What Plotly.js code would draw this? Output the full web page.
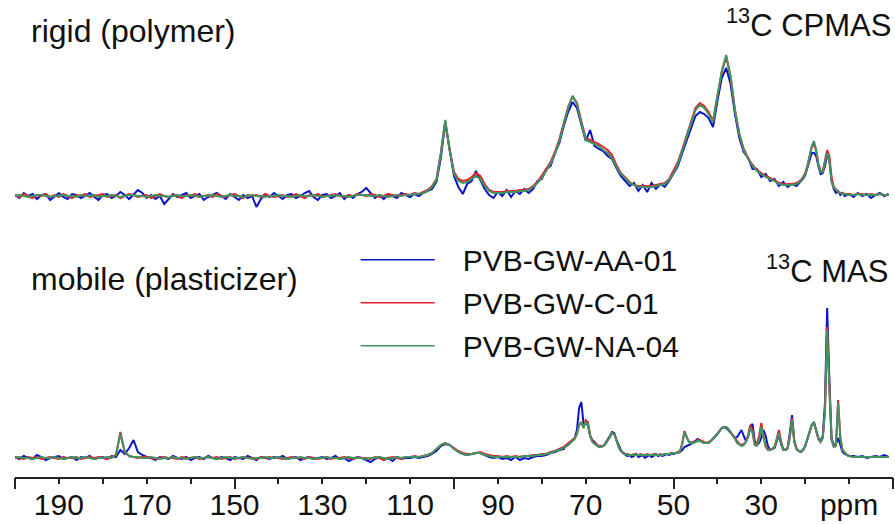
<!DOCTYPE html>
<html>
<head>
<meta charset="utf-8">
<script src="https://cdn.plot.ly/plotly-3.0.1.min.js"></script>
<style>html,body{margin:0;padding:0;background:#fff;}#chart{width:895px;height:524px;}</style>
</head>
<body>
<div id="chart"></div>
<script>
// ---- sample names & colours ----
const SAMPLES = ['PVB-GW-AA-01', 'PVB-GW-C-01', 'PVB-GW-NA-04'];
const COLORS = ['#0a14c8', '#e8212b', '#3f9461'];

// ---- x axis ticks ----
const LABEL_TICKS = [190, 170, 150, 130, 110, 90, 70, 50, 30, 10];
const LABEL_TEXT = ['190', '170', '150', '130', '110', '90', '70', '50', '30', 'ppm'];
const TALL_TICKS = [200, 150, 100, 50, 0];

// ---- 13C CPMAS (rigid) : chemical shift grid (ppm) ----
const TOP_PPM = [
200,199,198,197,196,195,194,193,192,191,
190,189,188,187,186,185,184,183,182,181,
180,179,178,177,176,175,174,173,172,171,
170,169,168,167,166,165,164,163,162,161,
160,159,158,157,156,155,154,153,152,151,
150,149,148,147,146,145,144,143,142,141,
140,139,138,137,136,135,134,133,132,131,
130,129,128,127,126,125,124,123,122,121,
120,119,118,117,116,115,114,113,112,111,
110,109,108,107,106,105,104,103,102,101,
100,99,98,97,96,95,94,93,92,91,
90,89,88,87,86,85,84,83,82,81,
80,79,78,77,76,75,74,73,72,71,
70,69,68,67,66,65,64,63,62,61,
60,59,58,57,56,55,54,53,52,51,
50,49,48,47,46,45,44,43,42,41,
40,39,38,37,36,35,34,33,32,31,
30,29,28,27,26,25,24,23,22,21,
20.5,20,19.5,19,18.5,18,17.5,17,16.5,16,15.5,15,14.5,14,13.5,13,12.5,12,11.5,11,
10,9,8,7,6,5,4,3,2,1];

const TOP_AA01 = [
1,-2,3,0,2,-3,1,2,-4,0,
3,-1,-3,2,1,-2,0,3,-1,-4,
1,2,-2,0,4,1,-3,2,6,3,
-2,1,-3,0,-8,-3,2,-1,1,3,
-2,0,2,-4,-1,1,3,0,-3,2,
-1,-4,1,-2,0,-11,-3,2,-1,3,
0,-3,1,2,-2,0,3,5,-1,-4,
1,2,-2,0,3,-3,1,-2,2,4,
8,3,-2,1,-3,2,0,-2,3,1,
-1,2,0,3,5,
7,14,38,73,44,20,9,2,12,15,25,16,7,1,-2,
4,0,6,-1,5,2,7,3,
7,15,17,27,30,43,53,70,84,94,
88,70,55,66,50,47,45,40,37,28,20,15,10,13,5,
11,4,13,7,12,9,15,
22,30,43,55,68,80,84,82,78,69,95,118,128,
112,82,58,44,38,27,27,19,22,15,17,10,14,9,12,10,14,
17,21,28,36,43,43,40,30,22,23,30,41,36,16,7,3,5,1,3,0,
2,-1,3,0,2,-2,1,3,0,2];

const TOP_C01 = [
1,-1,2,0,-2,1,0,2,-1,1,
-1,2,0,-2,1,0,2,-1,0,1,
2,-1,0,1,-2,0,2,1,-1,0,
1,-2,0,2,0,-1,1,0,-2,1,
0,2,-1,0,1,-1,2,0,-1,1,
2,0,-2,1,0,1,-1,2,0,-1,
0,1,-1,0,2,0,-2,1,0,2,
-1,0,1,2,0,-1,1,0,2,1,
0,2,1,-1,0,2,1,0,1,2,
1,3,2,4,6,
10,17,43,75,47,24,17,15,16,19,23,20,12,6,4,
4,4,5,5,5,6,6,7,
10,14,20,27,34,44,57,74,89,100,
93,75,58,56,54,52,49,46,41,31,23,18,14,11,10,
10,10,10,11,12,13,17,
25,34,47,60,75,88,93,90,84,75,100,124,139,
119,86,62,47,38,31,26,23,20,18,16,13,12,12,12,13,16,
19,23,30,40,49,52,45,32,25,25,34,46,40,19,9,6,4,3,3,2,
2,1,2,2,1,2,1,2,1,1];

const TOP_NA04 = [
0,1,0,-1,0,1,1,0,-1,0,
0,1,0,0,-1,1,0,0,1,-1,
0,0,1,0,-1,0,1,1,0,0,
-1,0,1,0,0,-1,0,1,0,0,
1,0,-1,0,0,1,0,-1,0,1,
0,0,-1,0,1,0,0,-1,0,0,
1,0,0,-1,0,1,0,0,1,0,
-1,0,0,1,0,0,-1,0,1,1,
1,0,0,1,0,-1,0,1,0,1,
1,2,2,3,5,
9,16,42,76,46,22,15,13,14,17,20,17,10,5,3,
3,3,4,4,4,5,5,6,
9,13,18,25,32,42,55,72,88,100,
92,73,56,54,52,50,46,43,38,29,22,17,13,11,9,
9,9,9,10,11,12,16,
23,32,45,58,72,86,91,88,82,74,100,125,141,
120,86,62,46,37,30,25,22,19,17,15,12,11,11,11,12,15,
18,22,30,40,50,55,46,32,24,24,33,43,35,14,8,6,4,3,2,2,
1,1,2,1,1,1,1,2,1,1];

// ---- 13C MAS (mobile) : chemical shift grid (ppm) ----
const BOT_PPM = [
200,199,198,197,196,195,194,193,192,191,
190,189,188,187,186,185,184,183,182,181,
180,179,178,177,176,175,174,173,172,171,
170,169,168,167,166,165,164,163,162,161,
160,159,158,157,156,155,154,153,152,151,
150,149,148,147,146,145,144,143,142,141,
140,139,138,137,136,135,134,133,132,131,
130,129,128,127,126,125,124,123,122,121,
120,119,118,117,116,115,114,113,112,111,
110,109,108,107,106,105,104,103,102,101,
100,99,98,97,96,95,94,93,92,91,
90,89,88,87,86,85,84,83,82,81,
80,79,78,77,76,75,
74.5,74,73.5,73,72.5,72,71.5,71,70.5,70,
69.5,69,68.5,68,67.5,67,66.5,66,65.5,65,
64.5,64,63.5,63,62.5,62,61.5,61,60.5,60,
59.5,59,58.5,58,57.5,57,56.5,56,55.5,55,
54.5,54,53.5,53,52.5,52,51.5,51,50.5,50,
49.5,49,48.5,48,47.5,47,46.5,46,45.5,45,
44.5,44,43.5,43,42.5,42,41.5,41,40.5,40,
39.5,39,38.5,38,37.5,37,36.5,36,35.5,35,
34.5,34,33.5,33,32.5,32,31.5,31,30.5,30,
29.5,29,28.5,28,27.5,27,26.5,26,25.5,25,
24.5,24,23.5,23,22.5,22,21.5,21,20.5,20,
19.5,19,18.5,18,17.5,17,16.5,16,15.5,15,
14.5,14,13.5,13,12.5,12,11.5,11,10.5,10,
9,8,7,6,5,4,3,2,1];

const BOT_AA01 = [
1,-1,2,0,-1,3,1,-2,0,1,
2,-1,0,1,-2,1,0,2,-1,0,
1,-1,2,1,8,4,10,18,6,3,
1,0,-2,1,0,-1,2,0,-1,1,
-2,0,1,-1,2,0,-1,1,0,-2,
1,0,-1,2,0,-2,1,0,-1,1,
0,2,-1,0,1,-2,0,1,-1,0,
1,-1,0,2,-1,0,-3,-1,1,0,
-2,-4,-1,1,-2,0,-3,1,-1,0,
0,1,0,1,2,4,7,12,14,13,
9,6,4,3,4,5,5,3,1,0,
1,-1,0,-2,1,-2,0,-1,1,2,
2,3,5,6,8,9,
12,13,15,17,20,28,50,56,35,35,
33,22,18,16,13,11,12,12,15,18,
22,26,25,18,12,8,5,3,2,3,
1,2,4,1,2,3,0,2,3,1,
2,4,2,3,2,3,4,3,4,4,
5,5,6,8,11,12,13,14,16,17,
19,18,16,15,15,15,17,19,22,24,
27,30,31,30,28,25,22,20,21,25,
28,22,17,21,32,34,17,13,15,20,
28,22,12,8,9,10,16,23,14,8,
8,10,25,43,18,9,7,6,8,12,
19,26,33,36,29,20,17,22,55,150,
80,20,13,14,20,12,6,4,3,2,
2,1,2,0,1,2,1,3,1];

const BOT_C01 = [
1,0,-1,1,0,1,-1,0,1,0,
-1,1,0,0,1,-1,0,1,0,1,
0,-1,1,3,26,6,2,1,0,1,
1,0,-1,0,1,0,0,-1,1,0,
0,1,-1,0,1,0,1,-1,0,1,
-1,0,1,0,0,-1,1,0,1,0,
0,-1,0,1,0,0,-1,1,0,-1,
0,1,-1,0,0,1,0,-1,1,0,
0,-1,1,0,-2,0,1,0,-1,1,
1,2,1,2,3,5,9,13,15,13,
10,7,5,4,4,5,6,4,3,2,
2,1,2,1,2,1,2,2,3,3,
4,4,6,7,9,11,
13,15,16,18,20,24,33,36,30,38,
36,23,17,15,13,12,11,12,14,17,
21,25,24,18,11,7,5,4,4,3,
3,4,3,3,4,3,3,4,3,3,
4,3,3,4,3,4,4,4,5,5,
5,6,7,15,27,21,16,16,15,16,
18,18,17,16,15,16,17,19,22,24,
27,30,31,31,29,26,23,19,16,14,
13,14,16,23,33,28,14,14,22,35,
22,12,8,9,9,11,19,28,17,9,
8,10,22,40,17,10,7,6,8,12,
19,26,33,35,28,19,16,20,48,131,
72,19,12,13,58,21,8,5,3,2,
1,1,1,1,1,1,1,1,1];

const BOT_NA04 = [
0,1,0,0,-1,0,1,0,0,1,
0,-1,0,1,0,0,1,0,-1,0,
0,1,0,3,24,6,2,1,1,0,
0,1,0,-1,0,0,1,0,0,-1,
0,1,0,0,1,0,-1,0,1,0,
0,0,1,0,-1,0,0,1,0,0,
1,0,-1,0,0,1,0,0,-1,0,
0,1,0,0,-1,0,1,0,0,0,
-1,0,0,1,0,-1,0,1,0,1,
1,1,1,2,3,5,9,13,15,13,
9,6,4,3,4,5,5,3,2,1,
1,1,1,1,1,1,2,2,2,3,
3,4,5,7,8,10,
12,14,15,17,19,24,33,36,30,36,
34,22,16,14,12,11,11,12,14,17,
21,25,24,18,11,7,5,4,3,3,
3,3,3,3,3,3,3,3,3,3,
3,3,3,3,3,4,4,4,4,5,
5,5,7,14,26,20,16,15,15,16,
17,17,16,15,15,15,17,19,22,24,
27,30,31,31,29,26,23,19,15,13,
12,13,16,22,30,25,13,12,18,31,
20,11,8,8,9,11,17,25,15,8,
8,10,20,38,16,9,7,6,8,12,
19,26,33,35,28,19,16,20,45,128,
70,18,11,12,55,20,8,5,3,2,
1,1,1,1,1,1,1,1,1];

const TOP_SERIES = [TOP_AA01, TOP_C01, TOP_NA04];
const BOT_SERIES = [BOT_AA01, BOT_C01, BOT_NA04];

const FONT = 'Liberation Sans, Arial, Helvetica, sans-serif';
const traces = [];
SAMPLES.forEach((name, i) => {
  traces.push({
    type: 'scatter', mode: 'lines', name: name, legendgroup: name,
    x: TOP_PPM, y: TOP_SERIES[i], xaxis: 'x', yaxis: 'y2',
    line: {color: COLORS[i], width: 2}, showlegend: true, hoverinfo: 'skip'
  });
});
SAMPLES.forEach((name, i) => {
  traces.push({
    type: 'scatter', mode: 'lines', name: name, legendgroup: name,
    x: BOT_PPM, y: BOT_SERIES[i], xaxis: 'x', yaxis: 'y',
    line: {color: COLORS[i], width: 2}, showlegend: false, hoverinfo: 'skip'
  });
});
// empty traces so the overlay tick axes are drawn
traces.push({type: 'scatter', mode: 'lines', x: [], y: [], xaxis: 'x2', yaxis: 'y', showlegend: false, hoverinfo: 'skip'});
traces.push({type: 'scatter', mode: 'lines', x: [], y: [], xaxis: 'x3', yaxis: 'y', showlegend: false, hoverinfo: 'skip'});

const layout = {
  width: 895, height: 524,
  margin: {l: 15, r: 2, t: 0, b: 47},
  paper_bgcolor: '#ffffff', plot_bgcolor: '#ffffff',
  font: {family: FONT, color: '#111'},
  showlegend: true,
  legend: {
    x: 0.388, xanchor: 'left', y: 0.51, yanchor: 'top',
    font: {family: FONT, size: 30, color: '#111'},
    bgcolor: 'rgba(0,0,0,0)', itemwidth: 97,
    traceorder: 'grouped', tracegroupgap: 1
  },
  // labelled axis (line + labels)
  xaxis: {
    range: [200, 0], domain: [0, 1], anchor: 'y',
    showline: true, linewidth: 2, linecolor: '#222', mirror: false,
    showgrid: false, zeroline: false, ticks: '',
    tickmode: 'array', tickvals: LABEL_TICKS, ticktext: LABEL_TEXT,
    tickfont: {family: FONT, size: 30, color: '#111'}
  },
  // long ticks every 50 ppm
  xaxis2: {
    range: [200, 0], overlaying: 'x', anchor: 'y', side: 'bottom',
    showline: false, showgrid: false, zeroline: false,
    ticks: 'outside', ticklen: 11, tickwidth: 2, tickcolor: '#222',
    tickmode: 'array', tickvals: TALL_TICKS, showticklabels: false
  },
  // short ticks every 10 ppm
  xaxis3: {
    range: [200, 0], overlaying: 'x', anchor: 'y', side: 'bottom',
    showline: false, showgrid: false, zeroline: false,
    ticks: 'outside', ticklen: 6, tickwidth: 2, tickcolor: '#222',
    tickmode: 'linear', tick0: 0, dtick: 10, showticklabels: false
  },
  yaxis: {domain: [0, 0.45], range: [-19, 195.65], visible: false, anchor: 'x', fixedrange: true},
  yaxis2: {domain: [0.5, 1], range: [-42.5, 196], visible: false, anchor: 'x', fixedrange: true},
  annotations: [
    {text: 'rigid (polymer)', xref: 'paper', yref: 'paper', x: 0.016, y: 0.935, xanchor: 'left', yanchor: 'middle', showarrow: false, font: {family: FONT, size: 32, color: '#111'}},
    {text: '<sup>13</sup>C CPMAS', xref: 'paper', yref: 'paper', x: 1.0, y: 0.952, xanchor: 'right', yanchor: 'middle', showarrow: false, font: {family: FONT, size: 31, color: '#111'}},
    {text: 'mobile (plasticizer)', xref: 'paper', yref: 'paper', x: 0.016, y: 0.415, xanchor: 'left', yanchor: 'middle', showarrow: false, font: {family: FONT, size: 32, color: '#111'}},
    {text: '<sup>13</sup>C MAS', xref: 'paper', yref: 'paper', x: 0.997, y: 0.437, xanchor: 'right', yanchor: 'middle', showarrow: false, font: {family: FONT, size: 31, color: '#111'}}
  ]
};

Plotly.newPlot('chart', traces, layout, {displayModeBar: false, staticPlot: true}).then(function () {
  // lengthen the legend sample lines to match the reference key
  document.querySelectorAll('#chart .legend path.js-line').forEach(function (p) {
    p.setAttribute('d', 'M5,0h74');
    p.style.strokeWidth = '1.6px';
  });
});
</script>
</body>
</html>
